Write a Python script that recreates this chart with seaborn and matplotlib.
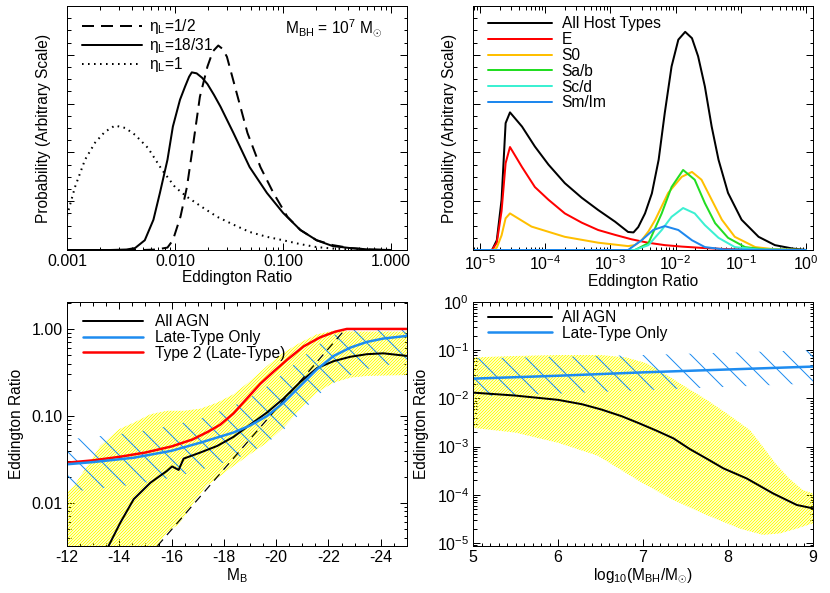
import numpy as np
import matplotlib
matplotlib.use("Agg")
import matplotlib.pyplot as plt
import matplotlib.ticker as mticker
import seaborn as sns

# -----------------------------------------------------------
# DATA
# -----------------------------------------------------------
# Panel 1: Eddington ratio distributions for M_BH = 1e7, log10(ratio) vs prob.
eta_half_logx = [-3.0, -2.3, -2.17, -2.07, -2.02, -1.95, -1.89, -1.83, -1.77, -1.70, -1.65, -1.60,
                 -1.56, -1.52, -1.43, -1.33, -1.21, -1.09, -0.96, -0.84, -0.69, -0.54, -0.38, -0.2, 0.0]
eta_half_p = [0, 0, 0.01, 0.05, 0.2, 0.68, 1.29, 2.2, 3.14, 3.76, 4.07, 4.19,
              4.12, 3.96, 3.22, 2.40, 1.70, 1.17, 0.68, 0.41, 0.2, 0.1, 0.04, 0.01, 0.0]

eta_1831_logx = [-3.0, -2.6, -2.45, -2.37, -2.28, -2.2, -2.14, -2.07, -2.02, -1.954, -1.907, -1.87, -1.845,
                 -1.80, -1.75, -1.70, -1.64, -1.58, -1.46, -1.31, -1.15, -1.0, -0.84, -0.69, -0.54, -0.38, -0.2, 0.0]
eta_1831_p = [0, 0, 0.01, 0.04, 0.2, 0.62, 1.17, 1.85, 2.53, 3.08, 3.35, 3.55, 3.64,
              3.62, 3.53, 3.40, 3.18, 2.94, 2.40, 1.70, 1.17, 0.76, 0.41, 0.20, 0.08, 0.04, 0.01, 0.0]

eta_one_logx = [-3.0, -2.926, -2.833, -2.74, -2.65, -2.556, -2.46, -2.37, -2.25, -2.12, -2.0, -1.89,
                -1.75, -1.61, -1.46, -1.31, -1.15, -1.0, -0.84, -0.69, -0.54, -0.38, -0.2, 0.0]
eta_one_p = [0.70, 1.29, 1.85, 2.2, 2.42, 2.55, 2.5, 2.36, 2.09, 1.64, 1.29, 1.09,
             0.88, 0.68, 0.52, 0.37, 0.27, 0.2, 0.12, 0.06, 0.03, 0.015, 0.005, 0.0]

# Panel 2: distributions by host type
all_host_logx = [-5.11, -4.815, -4.742, -4.669, -4.607, -4.540, -4.356, -4.158, -3.950, -3.699, -3.439,
                 -3.188, -2.928, -2.729, -2.646, -2.573, -2.469, -2.364, -2.260, -2.166, -2.062, -1.958,
                 -1.853, -1.749, -1.655, -1.551, -1.447, -1.342, -1.196, -0.988, -0.727, -0.477, -0.206, 0.0]
all_host_p = [0, 0, 0.2, 1.03, 2.6, 2.82, 2.53, 2.12, 1.75, 1.37, 1.07,
              0.82, 0.58, 0.37, 0.36, 0.47, 0.75, 1.16, 1.85, 2.81, 3.76, 4.31,
              4.47, 4.34, 3.97, 3.35, 2.53, 1.85, 1.17, 0.62, 0.27, 0.10, 0.03, 0.0]
e_logx = [-5.11, -4.815, -4.742, -4.669, -4.607, -4.540, -4.356, -4.158, -3.950, -3.699, -3.439,
          -3.188, -2.928, -2.677, -2.427, -2.166, -1.906, -1.561, -1.248, -0.936, 0.0]
e_p = [0, 0, 0.15, 0.8, 1.78, 2.11, 1.70, 1.29, 1.03, 0.75, 0.56,
       0.41, 0.31, 0.22, 0.15, 0.10, 0.07, 0.04, 0.02, 0.01, 0.0]
s0_logx = [-5.11, -4.794, -4.742, -4.669, -4.607, -4.540, -4.210, -3.699, -3.188, -2.729, -2.625,
           -2.521, -2.417, -2.312, -2.114, -1.906, -1.749, -1.603, -1.447, -1.290, -1.092, -0.779,
           -0.518, 0.0]
s0_p = [0, 0, 0.05, 0.3, 0.65, 0.75, 0.48, 0.27, 0.15, 0.08, 0.1,
        0.2, 0.38, 0.62, 1.17, 1.5, 1.60, 1.44, 1.03, 0.62, 0.27, 0.06,
        0.02, 0.0]
sab_logx = [-5.11, -2.625, -2.417, -2.213, -2.062, -1.885, -1.707, -1.551, -1.394, -1.196, -0.936,
            -0.623, 0.0]
sab_p = [0, 0, 0.14, 0.75, 1.29, 1.64, 1.44, 0.96, 0.55, 0.25, 0.06, 0.01, 0.0]
scd_logx = [-5.11, -2.625, -2.417, -2.213, -2.062, -1.885, -1.707, -1.551, -1.342, -1.092, -0.727, 0.0]
scd_p = [0, 0, 0.1, 0.41, 0.68, 0.86, 0.75, 0.51, 0.25, 0.06, 0.01, 0.0]
smim_logx = [-5.11, -2.729, -2.521, -2.344, -2.166, -1.958, -1.749, -1.551, -1.248, 0.0]
smim_p = [0, 0, 0.2, 0.41, 0.49, 0.41, 0.2, 0.06, 0.01, 0.0]
host_labels = ["All Host Types", "E", "S0", "Sa/b", "Sc/d", "Sm/Im"]

# Panel 3: log10 Eddington ratio vs M_B
mb_all = [-13.3, -13.59, -14.04, -14.55, -15.19, -15.82, -16.02, -16.27, -16.46, -17.1, -17.74,
          -18.37, -19.0, -19.65, -20.28, -20.92, -21.56, -22.2, -22.83, -23.47, -24.1, -25.0]
lr_all = [-2.75, -2.494, -2.226, -1.957, -1.767, -1.632, -1.58, -1.62, -1.49, -1.42, -1.345,
          -1.24, -1.10, -0.96, -0.80, -0.61, -0.45, -0.37, -0.32, -0.29, -0.28, -0.31]
mb_late = [-12.0, -13.0, -14.55, -16.0, -17.1, -18.37, -19.0, -19.65, -20.28, -20.92, -21.56,
           -22.2, -22.83, -23.47, -24.1, -25.0]
lr_late = [-1.555, -1.53, -1.48, -1.40, -1.307, -1.19, -1.11, -1.0, -0.847, -0.655, -0.463,
           -0.31, -0.215, -0.149, -0.11, -0.08]
lr_late_hi = [-1.27, -1.24, -1.19, -1.11, -1.03, -0.885, -0.79, -0.66, -0.51, -0.35, -0.19,
              -0.07, 0.0, 0.0, 0.0, 0.0]
lr_late_lo = [-1.88, -1.84, -1.79, -1.71, -1.62, -1.50, -1.42, -1.31, -1.16, -0.97, -0.77,
              -0.62, -0.53, -0.46, -0.42, -0.39]
mb_type2 = [-12.0, -13.0, -14.0, -15.0, -16.0, -16.8, -17.4, -17.86, -18.37, -18.88, -19.39,
            -19.9, -20.41, -21.05, -21.69, -22.26, -22.7, -25.0]
lr_type2 = [-1.537, -1.51, -1.47, -1.42, -1.35, -1.27, -1.18, -1.10, -0.97, -0.80, -0.63,
            -0.49, -0.356, -0.20, -0.095, -0.031, 0.0, 0.0]
mb_yel_hi = [-12.0, -12.25, -13.0, -13.27, -14.0, -14.55, -15.19, -15.82, -16.46, -17.1, -17.74,
             -18.37, -19.0, -19.65, -20.28, -20.92, -21.56, -22.2, -23.0, -25.0]
lr_yel_hi = [-1.88, -1.81, -1.47, -1.345, -1.15, -1.077, -0.98, -0.94, -0.94, -0.916, -0.847,
             -0.75, -0.60, -0.425, -0.272, -0.157, -0.06, -0.02, -0.03, -0.03]
mb_yel_lo = [-12.0, -15.0, -15.44, -15.82, -16.2, -16.46, -16.84, -17.35, -17.86, -18.37, -19.0,
             -19.65, -20.28, -20.92, -21.56, -22.2, -22.83, -23.47, -25.0]
lr_yel_lo = [-2.8, -2.8, -2.494, -2.34, -2.26, -2.17, -1.997, -1.80, -1.69, -1.575, -1.44,
             -1.307, -1.134, -0.92, -0.73, -0.617, -0.56, -0.54, -0.53]
mb_fixed = [-15.1, -22.65]
lr_fixed = [-2.618, 0.0]

# Panel 4: log10 Eddington ratio vs log10 M_BH
mbh_all = [5.0, 5.49, 6.0, 6.28, 6.51, 6.75, 6.96, 7.16, 7.36, 7.55, 7.75, 7.945, 8.22, 8.53, 8.81, 9.0]
lr4_all = [-1.88, -1.94, -2.03, -2.12, -2.23, -2.37, -2.52, -2.67, -2.83, -3.05, -3.25, -3.45,
           -3.66, -3.97, -4.21, -4.28]
mbh_late = [5.0, 6.0, 7.0, 8.0, 9.0]
lr4_late = [-1.59, -1.53, -1.46, -1.40, -1.34]
lr4_late_hi = [-1.17, -1.14, -1.10, -1.05, -1.0]
lr4_late_lo = [-1.96, -1.90, -1.83, -1.76, -1.69]
mbh_yel_hi = [5.0, 5.5, 6.0, 6.5, 6.8, 7.04, 7.28, 7.435, 7.75, 7.985, 8.26, 8.41, 8.56, 8.72, 8.88, 9.0]
lr4_yel_hi = [-1.15, -1.12, -1.10, -1.10, -1.15, -1.27, -1.51, -1.69, -2.03, -2.31, -2.66, -3.0,
              -3.35, -3.66, -3.90, -3.97]
mbh_yel_lo = [5.0, 5.5, 6.0, 6.47, 6.96, 7.36, 7.75, 8.14, 8.41, 8.61, 8.81, 9.0]
lr4_yel_lo = [-2.61, -2.71, -2.92, -3.19, -3.72, -4.11, -4.42, -4.70, -4.83, -4.80, -4.70, -4.59]

# -----------------------------------------------------------
# STYLE
# -----------------------------------------------------------
sns.set_style("ticks", {"axes.edgecolor": "black", "text.color": "black",
                        "xtick.color": "black", "ytick.color": "black",
                        "axes.labelcolor": "black"})
plt.rcParams["font.family"] = ["Liberation Sans", "DejaVu Sans"]
plt.rcParams.update({
    "mathtext.fontset": "custom",
    "mathtext.rm": "Liberation Sans",
    "mathtext.it": "Liberation Sans:italic",
    "mathtext.bf": "Liberation Sans:bold",
    "axes.unicode_minus": False,
    "hatch.linewidth": 1.0,
    "axes.linewidth": 1.0,
})

YELLOW = "#FFFF00"
BLUE = "#1E8CF0"
RED = "#FF0000"
host_colors = ["black", RED, "#FFBF00", "#22DD22", "#3CF0D2", "#1E88EE"]
FS = 15.5


def unlog(v):
    return np.power(10.0, np.asarray(v, dtype=float))


def style_axes(ax):
    ax.tick_params(which="both", direction="in", top=True, right=True,
                   labelsize=16, pad=4, width=1)
    ax.tick_params(which="major", length=7)
    ax.tick_params(which="minor", length=3.5)
    for s in ax.spines.values():
        s.set_linewidth(1.0)
        s.set_color("black")


def line(ax, x, y, color, lw=2.0, ls="-"):
    sns.lineplot(x=x, y=y, ax=ax, color=color, linewidth=lw, linestyle=ls,
                 estimator=None, sort=False, legend=False)


def band(ax, x_hi, y_hi, x_lo, y_lo, color, hatch):
    xs = np.concatenate([np.asarray(x_hi, float), np.asarray(x_lo, float)[::-1]])
    ys = np.concatenate([unlog(y_hi), unlog(y_lo)[::-1]])
    ax.fill(xs, ys, facecolor="none", edgecolor=color, hatch=hatch, linewidth=0)


def log_minor(ax, axis):
    loc_major = mticker.LogLocator(base=10, numticks=15)
    loc_minor = mticker.LogLocator(base=10, subs=np.arange(2, 10), numticks=15)
    a = ax.xaxis if axis == "x" else ax.yaxis
    a.set_major_locator(loc_major)
    a.set_minor_locator(loc_minor)
    a.set_minor_formatter(mticker.NullFormatter())


fig = plt.figure(figsize=(830 / 72, 593 / 72), dpi=72)
W, H = 0.4096, 0.4115
ax1 = fig.add_axes([0.0807, 0.5784, W, H])
ax2 = fig.add_axes([0.5699, 0.5784, W, H])
ax3 = fig.add_axes([0.0807, 0.0793, W, H])
ax4 = fig.add_axes([0.5699, 0.0793, W, H])

leg_kw = dict(loc="upper left", frameon=False, fontsize=FS, labelspacing=0.05,
              borderpad=0, borderaxespad=0)

# -----------------------------------------------------------
# PANEL 1
# -----------------------------------------------------------
line(ax1, unlog(eta_half_logx), eta_half_p, "black", ls=(0, (6, 3.5)))
line(ax1, unlog(eta_1831_logx), eta_1831_p, "black")
line(ax1, unlog(eta_one_logx), eta_one_p, "black", ls=(0, (0.8, 2.2)))
ax1.set_xscale("log")
ax1.set_xlim(0.001, 1.40)
ax1.set_ylim(0, 5.0)
log_minor(ax1, "x")
ax1.xaxis.set_major_formatter(mticker.FuncFormatter(lambda v, p: f"{v:.3f}"))
ax1.yaxis.set_major_locator(mticker.MultipleLocator(1))
ax1.yaxis.set_minor_locator(mticker.MultipleLocator(0.25))
ax1.yaxis.set_major_formatter(mticker.NullFormatter())
style_axes(ax1)
ax1.set_xlabel("Eddington Ratio", fontsize=FS, labelpad=1)
ax1.set_ylabel("Probability (Arbitrary Scale)", fontsize=FS, labelpad=12)
leg1_kw = dict(leg_kw, labelspacing=0.0)
ax1.legend(handles=ax1.get_lines()[:3],
           labels=[r"η$_{\rm L}$=1/2", r"η$_{\rm L}$=18/31", r"η$_{\rm L}$=1"],
           bbox_to_anchor=(0.044, 0.955), handlelength=3.9, handletextpad=0.45, **leg1_kw)
ax1.text(0.641, 0.91, r"M$_{\rm BH}$ = 10$^{7}$ M$_{\odot}$", transform=ax1.transAxes,
         fontsize=FS, va="center", ha="left")

# -----------------------------------------------------------
# PANEL 2
# -----------------------------------------------------------
host_x = [all_host_logx, e_logx, s0_logx, sab_logx, scd_logx, smim_logx]
host_y = [all_host_p, e_p, s0_p, sab_p, scd_p, smim_p]
for hx, hy, c in zip(host_x, host_y, host_colors):
    line(ax2, unlog(hx), hy, c)
ax2.set_xscale("log")
ax2.set_xlim(10 ** -5.107, 10 ** 0.107)
ax2.set_ylim(0, 5.0)
log_minor(ax2, "x")
ax2.xaxis.set_major_formatter(mticker.LogFormatterMathtext())
ax2.yaxis.set_major_locator(mticker.MultipleLocator(1))
ax2.yaxis.set_minor_locator(mticker.MultipleLocator(0.25))
ax2.yaxis.set_major_formatter(mticker.NullFormatter())
style_axes(ax2)
ax2.set_xlabel("Eddington Ratio", fontsize=FS, labelpad=1)
ax2.set_ylabel("Probability (Arbitrary Scale)", fontsize=FS, labelpad=12)
ax2.legend(handles=ax2.get_lines()[:6], labels=host_labels,
           bbox_to_anchor=(0.044, 0.957), handlelength=4.1, handletextpad=0.65, **leg_kw)

# -----------------------------------------------------------
# PANEL 3
# -----------------------------------------------------------
band(ax3, mb_yel_hi, lr_yel_hi, mb_yel_lo, lr_yel_lo, YELLOW, "////////")
band(ax3, mb_late, lr_late_hi, mb_late, lr_late_lo, BLUE, "\\")
line(ax3, mb_fixed, unlog(lr_fixed), "black", lw=1.2, ls=(0, (7, 5)))
line(ax3, mb_all, unlog(lr_all), "black")
line(ax3, mb_type2, unlog(lr_type2), RED, lw=2.5)
line(ax3, mb_late, unlog(lr_late), BLUE, lw=2.5)
ax3.set_yscale("log")
ax3.set_xlim(-12, -25)
ax3.set_ylim(0.003206, 2.043)
log_minor(ax3, "y")
ax3.yaxis.set_major_formatter(mticker.FuncFormatter(lambda v, p: f"{v:.2f}"))
ax3.xaxis.set_major_locator(mticker.MultipleLocator(2))
ax3.xaxis.set_minor_locator(mticker.MultipleLocator(0.5))
style_axes(ax3)
ax3.set_xlabel(r"M$_{\rm B}$", fontsize=FS, labelpad=1)
ax3.set_ylabel("Eddington Ratio", fontsize=FS, labelpad=8)
l3 = ax3.get_lines()
ax3.legend(handles=[l3[1], l3[3], l3[2]],
           labels=["All AGN", "Late-Type Only", "Type 2 (Late-Type)"],
           bbox_to_anchor=(0.047, 0.950), handlelength=3.9, handletextpad=0.75, **leg_kw)

# -----------------------------------------------------------
# PANEL 4
# -----------------------------------------------------------
band(ax4, mbh_yel_hi, lr4_yel_hi, mbh_yel_lo, lr4_yel_lo, YELLOW, "////////")
band(ax4, mbh_late, lr4_late_hi, mbh_late, lr4_late_lo, BLUE, "\\")
line(ax4, mbh_all, unlog(lr4_all), "black")
line(ax4, mbh_late, unlog(lr4_late), BLUE, lw=2.5)
ax4.set_yscale("log")
ax4.set_xlim(5, 9)
ax4.set_ylim(10 ** -5.06, 1.0)
log_minor(ax4, "y")
ax4.yaxis.set_major_formatter(mticker.LogFormatterMathtext())
ax4.xaxis.set_major_locator(mticker.MultipleLocator(1))
ax4.xaxis.set_minor_locator(mticker.MultipleLocator(0.1))
style_axes(ax4)
ax4.set_xlabel(r"log$_{10}$(M$_{\rm BH}$/M$_{\odot}$)", fontsize=FS, labelpad=1)
ax4.set_ylabel("Eddington Ratio", fontsize=FS, labelpad=8)
ax4.legend(handles=ax4.get_lines()[:2], labels=["All AGN", "Late-Type Only"],
           bbox_to_anchor=(0.044, 0.967), handlelength=4.1, handletextpad=0.65, **leg_kw)

fig.savefig("out.png", dpi=72)
plt.close(fig)
